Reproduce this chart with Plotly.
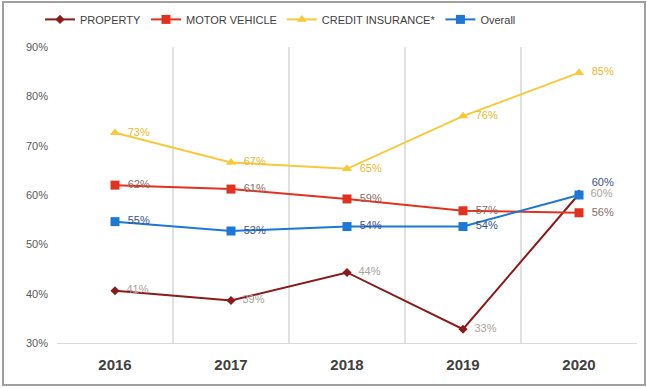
import plotly.graph_objects as go

years = ["2016", "2017", "2018", "2019", "2020"]
property_vals = [40.6, 38.6, 44.3, 32.8, 60.2]
motor_vals = [62.0, 61.2, 59.2, 56.8, 56.4]
credit_vals = [72.6, 66.6, 65.3, 76.0, 84.8]
overall_vals = [54.6, 52.7, 53.6, 53.6, 60.0]

series = [
    ("PROPERTY", property_vals, "#8B1A1A", "diamond", 7, "#A8A29A",
     ["middle right"] * 5),
    ("MOTOR VEHICLE", motor_vals, "#E2321F", "square", 9, "#8C6A66",
     ["middle right"] * 5),
    ("CREDIT INSURANCE*", credit_vals, "#F9C93A", "triangle-up", 9, "#E8B92E",
     ["middle right"] * 5),
    ("Overall", overall_vals, "#1C78D4", "square", 9, "#3B4E8C",
     ["middle right"] * 4 + ["top right"]),
]

fig = go.Figure()
for name, vals, color, sym, size, tcol, pos in series:
    fig.add_trace(go.Scatter(
        x=years, y=vals, name=name, mode="lines+markers+text",
        line=dict(color=color, width=2),
        marker=dict(symbol=sym, size=size, color=color),
        texttemplate="  %{y:.0f}%", textposition=pos,
        textfont=dict(family="Liberation Sans", size=11, color=tcol),
        cliponaxis=False,
    ))

fig.update_layout(
    width=647, height=388,
    margin=dict(l=57, r=10, t=47, b=45, autoexpand=False),
    paper_bgcolor="white", plot_bgcolor="white",
    font=dict(family="Liberation Sans", color="#595959"),
    legend=dict(orientation="h", x=40 / 647, xanchor="left", xref="container",
                y=0.95, yanchor="middle", yref="container",
                font=dict(size=11, color="#404040"),
                tracegroupgap=0),
    showlegend=True,
)

fig.update_xaxes(
    type="category", tickson="boundaries", showgrid=True, gridcolor="#E0E0E0",
    gridwidth=1.5, showline=True, linecolor="#D9D9D9", ticks="",
    tickfont=dict(family="Liberation Sans", size=15, color="#404040", weight="bold"),
    ticklabelstandoff=8,
    range=[-0.5, 4.5],
)
fig.update_yaxes(
    range=[30, 90], dtick=10, ticksuffix="%", showgrid=False, zeroline=False,
    tickfont=dict(family="Liberation Sans", size=11, color="#595959"),
    ticklabelstandoff=8,
)

fig.add_shape(type="rect", xref="paper", yref="paper",
              x0=-54/580, x1=1 + 8/580, y0=-42/296, y1=1 + 45/296,
              line=dict(color="#A0A0A0", width=2), layer="below")

fig.write_html("out.html")
